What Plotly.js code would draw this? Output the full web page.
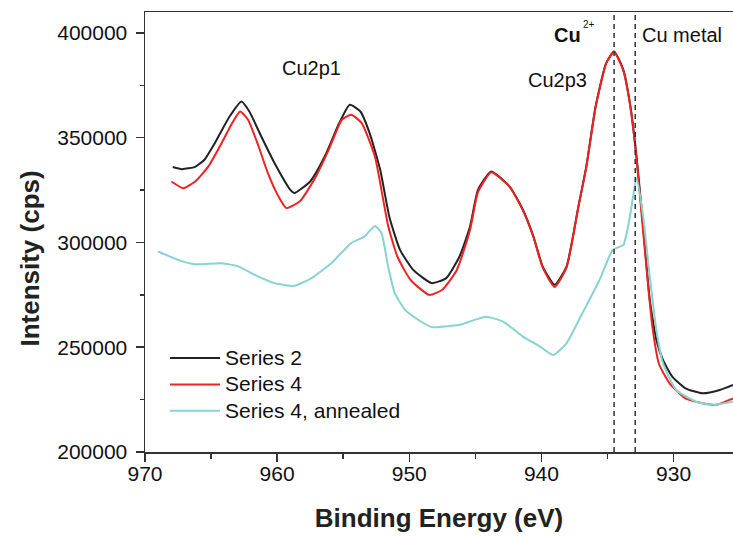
<!DOCTYPE html>
<html>
<head>
<meta charset="utf-8">
<script src="https://cdn.plot.ly/plotly-3.0.1.min.js"></script>
<style>html,body{margin:0;padding:0;background:#fff;}#chart{width:733px;height:536px;}</style>
</head>
<body>
<div id="chart"></div>
<script>
// Series 2 (black)
const energy2 = [967.9, 967.2, 966.2, 965.5, 964.7, 963.6, 962.7, 962.1, 961.2, 960.2, 959.0, 958.7, 957.5, 956.4, 955.3, 954.5, 953.7, 953.0, 952.2, 951.5, 950.7, 949.7, 948.3, 947.2, 946.2, 945.4, 944.8, 943.8, 942.4, 941.4, 940.6, 939.9, 939.0, 938.1, 937.2, 936.6, 935.9, 935.1, 934.5, 933.8, 933.3, 932.8, 932.3, 931.8, 931.3, 930.8, 930.1, 929.1, 927.8, 926.5, 925.5];
const intensity2 = [336000, 335000, 336100, 339500, 347600, 360100, 367300, 362500, 350600, 337900, 325100, 323600, 329100, 341000, 357000, 365700, 362500, 352200, 334700, 312000, 296500, 286900, 280600, 283000, 293300, 307600, 325100, 333900, 326700, 315600, 302800, 288500, 279800, 288500, 317200, 336300, 364900, 385600, 391200, 382400, 366500, 341000, 308000, 272600, 253500, 243900, 236000, 230400, 228000, 229600, 232000];

// Series 4 (red)
const energy4 = [968.0, 967.1, 966.2, 965.2, 964.2, 963.4, 962.8, 962.2, 961.4, 960.7, 959.9, 959.3, 958.3, 957.2, 956.1, 955.1, 954.4, 953.6, 952.6, 951.6, 950.9, 949.9, 948.5, 947.5, 946.4, 945.4, 944.8, 943.8, 942.4, 941.4, 940.6, 939.9, 939.0, 938.1, 937.2, 936.6, 935.9, 935.1, 934.5, 933.8, 933.3, 932.8, 932.3, 931.6, 931.1, 930.3, 929.1, 927.8, 926.8, 925.5];
const intensity4 = [329100, 325900, 329100, 336300, 347400, 357000, 362500, 358600, 345800, 333100, 322000, 316400, 319500, 329900, 344200, 358600, 361000, 357000, 341000, 308000, 293300, 282100, 275000, 277400, 286900, 306000, 324000, 333500, 326500, 315300, 302500, 288000, 278800, 288000, 317000, 336000, 364500, 385500, 391000, 382000, 366000, 340000, 305000, 259800, 242000, 232800, 225600, 223300, 222500, 225600];

// Series 4, annealed (cyan)
const energyA = [969.0, 967.5, 966.2, 964.2, 962.9, 961.7, 960.2, 958.7, 957.4, 955.9, 954.4, 953.4, 952.6, 952.1, 951.6, 951.1, 950.3, 949.3, 948.3, 946.2, 944.2, 942.9, 941.4, 940.1, 939.1, 938.1, 936.9, 935.6, 934.6, 933.8, 933.3, 932.8, 932.3, 931.8, 931.3, 930.8, 929.8, 928.3, 927.0, 925.5];
const intensityA = [295700, 291700, 289600, 290100, 288500, 284500, 280600, 279300, 283000, 290100, 299700, 302800, 307900, 304400, 288500, 275800, 267800, 263000, 259600, 260700, 264600, 262200, 255100, 250300, 246300, 251900, 266200, 282100, 296500, 298900, 312400, 330700, 312400, 283700, 258300, 242400, 229600, 224000, 222500, 224000];

const seriesNames = ["Series 2", "Series 4", "Series 4, annealed"];
const refEnergies = [934.5, 932.9]; // Cu2+ and Cu metal reference lines

const FONT = "Liberation Sans, Arial, Helvetica, sans-serif";
const legendLabel = s => '<span style="font-size:21px">' + s + '</span>';

const traces = [
  {x: energy2, y: intensity2, name: legendLabel(seriesNames[0]), type: "scatter", mode: "lines",
   line: {color: "#222222", width: 2, shape: "spline", smoothing: 0.5}},
  {x: energy4, y: intensity4, name: legendLabel(seriesNames[1]), type: "scatter", mode: "lines",
   line: {color: "#ee2222", width: 2, shape: "spline", smoothing: 0.5}},
  {x: energyA, y: intensityA, name: legendLabel(seriesNames[2]), type: "scatter", mode: "lines",
   line: {color: "#86d3d0", width: 2, shape: "spline", smoothing: 0.5}}
];

const shapes = refEnergies.map(e => ({
  type: "line", xref: "x", yref: "paper", x0: e, x1: e, y0: 0, y1: 1,
  line: {color: "#333333", width: 1.5, dash: "5px,4px"}
}));

const layout = {
  width: 733, height: 536,
  margin: {l: 145, r: 0, t: 12, b: 84},
  paper_bgcolor: "#ffffff", plot_bgcolor: "#ffffff",
  font: {family: FONT, size: 21, color: "#111111"},
  showlegend: true,
  legend: {x: 0.034, y: 0.255, xanchor: "left", yanchor: "top",
           bgcolor: "rgba(0,0,0,0)", font: {family: FONT, size: 18, color: "#111111"},
           itemwidth: 50, tracegroupgap: 0},
  xaxis: {
    range: [970, 925.5], autorange: false,
    dtick: 10, tick0: 970, ticks: "outside", ticklen: 8, tickwidth: 1.5, tickcolor: "#333",
    minor: {dtick: 5, ticks: "outside", ticklen: 5, tickwidth: 1.5, tickcolor: "#333"},
    showline: true, linecolor: "#333", linewidth: 1.5, mirror: true,
    showgrid: false, zeroline: false, ticklabelstandoff: -6,
    tickfont: {family: FONT, size: 21, color: "#111"},
    title: {text: "<b>Binding Energy (eV)</b>", font: {family: FONT, size: 26, color: "#222"}, standoff: 25}
  },
  yaxis: {
    range: [200000, 410000], autorange: false,
    dtick: 50000, tick0: 200000, tickformat: "d", ticks: "outside", ticklen: 8, tickwidth: 1.5, tickcolor: "#333",
    minor: {dtick: 25000, ticks: "outside", ticklen: 4, tickwidth: 1.5, tickcolor: "#333"},
    showline: true, linecolor: "#333", linewidth: 1.5, mirror: false,
    showgrid: false, zeroline: false, ticklabelstandoff: 4,
    tickfont: {family: FONT, size: 21, color: "#111"}
  },
  shapes: shapes,
  annotations: [
    {text: "<b>Intensity (cps)</b>", xref: "paper", yref: "paper", x: -0.196, y: 0.439,
     xanchor: "center", yanchor: "middle", textangle: -90, showarrow: false,
     font: {family: FONT, size: 26, color: "#222"}},
    {text: "Cu2p1", xref: "paper", yref: "paper", x: 0.284, y: 0.872,
     xanchor: "center", yanchor: "middle", showarrow: false, font: {family: FONT, size: 20, color: "#111"}},
    {text: "Cu2p3", xref: "paper", yref: "paper", x: 0.7007, y: 0.845,
     xanchor: "center", yanchor: "middle", showarrow: false, font: {family: FONT, size: 20, color: "#111"}},
    {text: "Cu metal", xref: "paper", yref: "paper", x: 0.9127, y: 0.9466,
     xanchor: "center", yanchor: "middle", showarrow: false, font: {family: FONT, size: 20, color: "#111"}},
    {text: "<b>Cu</b>", xref: "paper", yref: "paper", x: 0.7185, y: 0.947,
     xanchor: "center", yanchor: "middle", showarrow: false, font: {family: FONT, size: 20, color: "#111"}},
    {text: "2+", xref: "paper", yref: "paper", x: 0.755, y: 0.972,
     xanchor: "center", yanchor: "middle", showarrow: false, font: {family: FONT, size: 10, color: "#111"}}
  ]
};

Plotly.newPlot("chart", traces, layout, {displayModeBar: false, staticPlot: true});
</script>
</body>
</html>
